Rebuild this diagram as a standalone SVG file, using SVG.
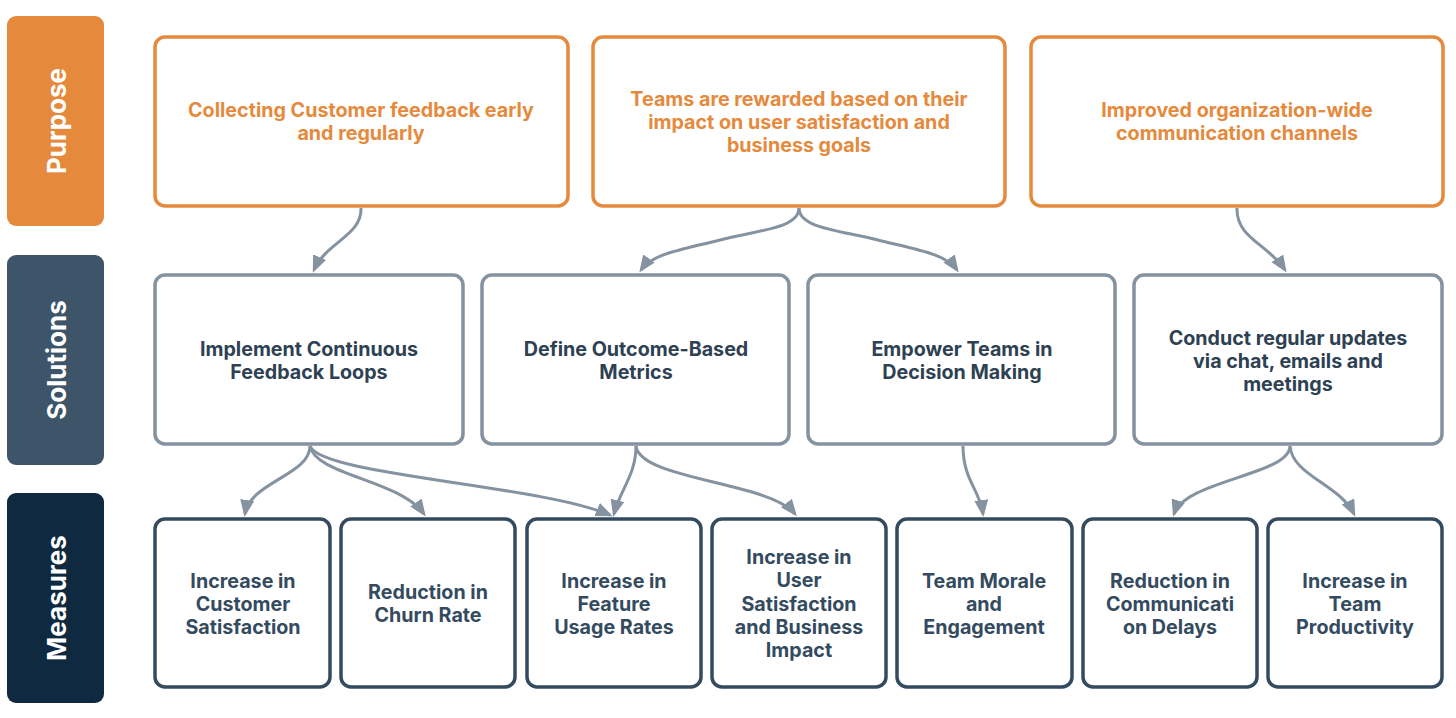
<svg xmlns="http://www.w3.org/2000/svg" width="1456" height="718" viewBox="0 0 1456 718">
<defs>
<style>
.lab{font-family:Inter,"Liberation Sans",sans-serif;font-weight:700;font-size:26px;fill:#fff;text-anchor:middle}
.t{font-family:Inter,"Liberation Sans",sans-serif;font-weight:700;font-size:19.7px;text-anchor:middle}
.pbox{fill:#fff;stroke:#E58A3D;stroke-width:3.5}
.sbox{fill:#fff;stroke:#8592A0;stroke-width:3.5}
.mbox{fill:#fff;stroke:#344B5F;stroke-width:3.5}
.pt{fill:#E58A3D}
.st{fill:#2E4153}
.mt{fill:#344B5F}
.c{fill:none;stroke:#8592A0;stroke-width:3}
</style>
<marker id="ah" markerUnits="userSpaceOnUse" markerWidth="18" markerHeight="14" refX="14" refY="7" orient="auto">
<path d="M0,0 L17,7 L0,14 z" fill="#8592A0"/>
</marker>
</defs>
<rect width="1456" height="718" fill="#fff"/>

<g id="label-purpose">
<rect x="7" y="16" width="97" height="210" rx="9" fill="#E58A3D"/>
<text class="lab" transform="translate(66,121) rotate(-90)">Purpose</text>
</g>
<g id="label-solutions">
<rect x="7" y="255" width="97" height="210" rx="9" fill="#3D5469"/>
<text class="lab" transform="translate(66,360) rotate(-90)">Solutions</text>
</g>
<g id="label-measures">
<rect x="7" y="493" width="97" height="210" rx="9" fill="#0F2A40"/>
<text class="lab" transform="translate(66,598) rotate(-90)">Measures</text>
</g>

<g id="p1">
<rect class="pbox" x="155" y="37" width="413" height="169" rx="10"/>
<text class="t pt" x="361" y="117">Collecting Customer feedback early</text>
<text class="t pt" x="361" y="140">and regularly</text>
</g>
<g id="p2">
<rect class="pbox" x="593" y="37" width="412" height="169" rx="10"/>
<text class="t pt" x="799" y="106">Teams are rewarded based on their</text>
<text class="t pt" x="799" y="129">impact on user satisfaction and</text>
<text class="t pt" x="799" y="152">business goals</text>
</g>
<g id="p3">
<rect class="pbox" x="1031" y="37" width="412" height="169" rx="10"/>
<text class="t pt" x="1237" y="117">Improved organization-wide</text>
<text class="t pt" x="1237" y="140">communication channels</text>
</g>

<g id="s1">
<rect class="sbox" x="155" y="275" width="308" height="169" rx="10"/>
<text class="t st" x="309" y="356">Implement Continuous</text>
<text class="t st" x="309" y="379">Feedback Loops</text>
</g>
<g id="s2">
<rect class="sbox" x="482" y="275" width="307" height="169" rx="10"/>
<text class="t st" x="636" y="356">Define Outcome-Based</text>
<text class="t st" x="636" y="379">Metrics</text>
</g>
<g id="s3">
<rect class="sbox" x="808" y="275" width="307" height="169" rx="10"/>
<text class="t st" x="962" y="356">Empower Teams in</text>
<text class="t st" x="962" y="379">Decision Making</text>
</g>
<g id="s4">
<rect class="sbox" x="1134" y="275" width="308" height="169" rx="10"/>
<text class="t st" x="1288" y="345">Conduct regular updates</text>
<text class="t st" x="1288" y="368">via chat, emails and</text>
<text class="t st" x="1288" y="391">meetings</text>
</g>

<g id="m1">
<rect class="mbox" x="155" y="519" width="175" height="168" rx="10"/>
<text class="t mt" x="243" y="588">Increase in</text>
<text class="t mt" x="243" y="611">Customer</text>
<text class="t mt" x="243" y="634">Satisfaction</text>
</g>
<g id="m2">
<rect class="mbox" x="341" y="519" width="174" height="168" rx="10"/>
<text class="t mt" x="428" y="599">Reduction in</text>
<text class="t mt" x="428" y="622">Churn Rate</text>
</g>
<g id="m3">
<rect class="mbox" x="527" y="519" width="174" height="168" rx="10"/>
<text class="t mt" x="614" y="588">Increase in</text>
<text class="t mt" x="614" y="611">Feature</text>
<text class="t mt" x="614" y="634">Usage Rates</text>
</g>
<g id="m4">
<rect class="mbox" x="712" y="519" width="174" height="168" rx="10"/>
<text class="t mt" x="799" y="564">Increase in</text>
<text class="t mt" x="799" y="587">User</text>
<text class="t mt" x="799" y="611">Satisfaction</text>
<text class="t mt" x="799" y="634">and Business</text>
<text class="t mt" x="799" y="657">Impact</text>
</g>
<g id="m5">
<rect class="mbox" x="897" y="519" width="175" height="168" rx="10"/>
<text class="t mt" x="984" y="588">Team Morale</text>
<text class="t mt" x="984" y="611">and</text>
<text class="t mt" x="984" y="634">Engagement</text>
</g>
<g id="m6">
<rect class="mbox" x="1083" y="519" width="174" height="168" rx="10"/>
<text class="t mt" x="1170" y="588">Reduction in</text>
<text class="t mt" x="1170" y="611">Communicati</text>
<text class="t mt" x="1170" y="634">on Delays</text>
</g>
<g id="m7">
<rect class="mbox" x="1268" y="519" width="174" height="168" rx="10"/>
<text class="t mt" x="1355" y="588">Increase in</text>
<text class="t mt" x="1355" y="611">Team</text>
<text class="t mt" x="1355" y="634">Productivity</text>
</g>

<g id="connectors">
<path class="c" marker-end="url(#ah)" d="M361,208 C362,236 326,242 314,270"/>
<path class="c" marker-end="url(#ah)" d="M799,208 C799,228 760,230 720,240 C680,250 652,254 641,270"/>
<path class="c" marker-end="url(#ah)" d="M799,208 C799,228 838,230 878,240 C918,250 946,254 957,270"/>
<path class="c" marker-end="url(#ah)" d="M1237,208 C1236,238 1268,244 1285,270"/>
<path class="c" marker-end="url(#ah)" d="M310,446 C310,475 250,482 245,514"/>
<path class="c" marker-end="url(#ah)" d="M310,446 C315,475 400,480 424,514"/>
<path class="c" marker-end="url(#ah)" d="M310,446 C320,475 540,485 610,515"/>
<path class="c" marker-end="url(#ah)" d="M636,446 C636,475 620,490 614,514"/>
<path class="c" marker-end="url(#ah)" d="M636,446 C640,480 770,482 795,514"/>
<path class="c" marker-end="url(#ah)" d="M963,446 C963,480 980,490 983,514"/>
<path class="c" marker-end="url(#ah)" d="M1290,446 C1290,475 1185,480 1174,514"/>
<path class="c" marker-end="url(#ah)" d="M1290,446 C1292,475 1340,485 1354,514"/>
</g>
</svg>
